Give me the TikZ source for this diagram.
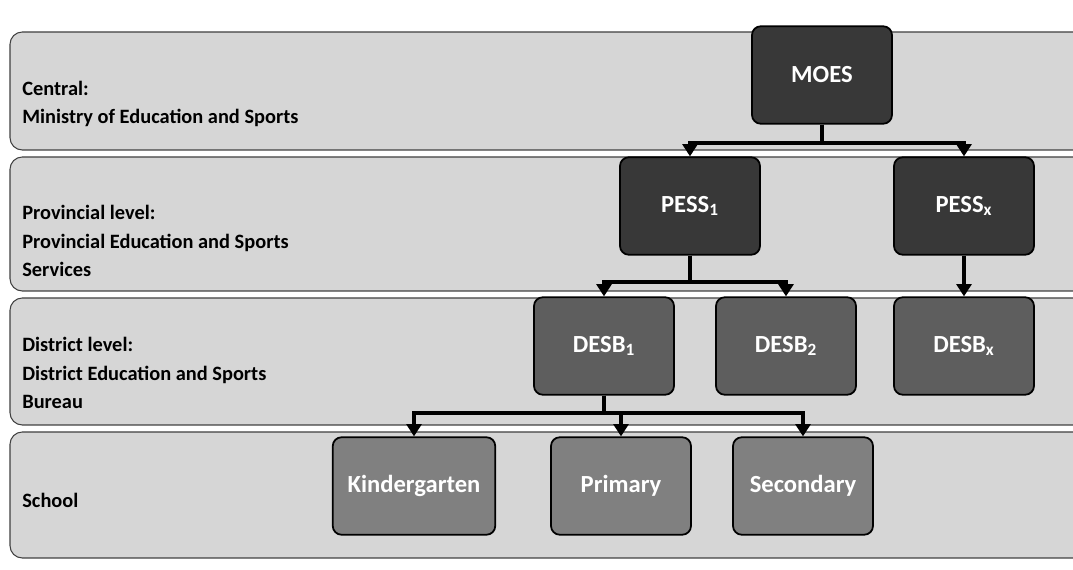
\documentclass[tikz,border=0pt]{standalone}
\usepackage{fontspec}
\setmainfont{Carlito}
\usetikzlibrary{arrows.meta}
\tikzset{
  band/.style={fill=black!16, draw=black!75, line width=0.6pt, rounded corners=7pt},
  lvltext/.style={anchor=west, align=left, inner sep=0pt,
    font=\fontsize{11.6}{16}\selectfont\bfseries},
  unit/.style={rounded corners=5pt, draw=black, line width=1pt, text=white,
    font=\fontsize{14}{16}\selectfont\bfseries,
    minimum width=2.8cm, minimum height=1.95cm},
  topunit/.style={unit, fill=black!78},
  midunit/.style={unit, fill=black!63},
  lowunit/.style={unit, fill=black!50},
  link/.style={line width=2.3pt, -{Triangle[length=7pt,width=8.5pt]}}
}

\begin{document}
\begin{tikzpicture}[x=0.02cm, y=-0.02cm]
			%%%%% BANDS %%%%%
			\useasboundingbox (0, 0) rectangle (1073, 570);
			
			\draw[band] (1073, 32) -- (10, 32) -- (10, 150) -- (1073, 150);
			\draw[band] (1073, 157) -- (10, 157) -- (10, 291) -- (1073, 291);
			\draw[band] (1073, 298) -- (10, 298) -- (10, 425) -- (1073, 425);
			\draw[band] (1073, 432) -- (10, 432) -- (10, 558) -- (1073, 558);
			
			\node[lvltext] (lvlcentral) at (22, 104) {Central:\\Ministry of Education and Sports};
			\node[lvltext] (lvlprov) at (22, 241) {Provincial level:\\Provincial Education and Sports\\Services};
			\node[lvltext] (lvldist) at (22, 373) {District level:\\District Education and Sports\\Bureau};
			\node[lvltext] (lvlschool) at (22, 500) {School};
			
			%%%%% UNITS %%%%%
			\node[topunit] (moes) at (822, 75) {MOES};
			\node[topunit] (pess1) at (690, 206) {PESS\textsubscript{1}};
			\node[topunit] (pessx) at (964, 206) {PESS\textsubscript{x}};
			
			\node[midunit] (desb1) at (604, 346) {DESB\textsubscript{1}};
			\node[midunit] (desb2) at (786, 346) {DESB\textsubscript{2}};
			\node[midunit] (desbx) at (964, 346) {DESB\textsubscript{x}};
			
			\node[lowunit, minimum width=3.25cm] (kinder) at (414, 486) {Kindergarten};
			\node[lowunit] (primary) at (621, 486) {Primary};
			\node[lowunit] (secondary) at (803, 486) {Secondary};
			
			%%%%% LINKS %%%%%
			\draw[link] (moes.south) -- ++(0, 18) -| (pess1.north);
			\draw[link] (moes.south) -- ++(0, 18) -| (pessx.north);
			
			\draw[link] (pess1.south) -- ++(0, 26) -| (desb1.north);
			\draw[link] (pess1.south) -- ++(0, 26) -| (desb2.north);
			\draw[link] (pessx.south) -- (desbx.north);
			
			\draw[link] (desb1.south) -- ++(0, 17) -| (kinder.north);
			\draw[link] (desb1.south) -- ++(0, 17) -| (primary.north);
			\draw[link] (desb1.south) -- ++(0, 17) -| (secondary.north);
			
			%%%%% END %%%%%
\end{tikzpicture}
\end{document}
